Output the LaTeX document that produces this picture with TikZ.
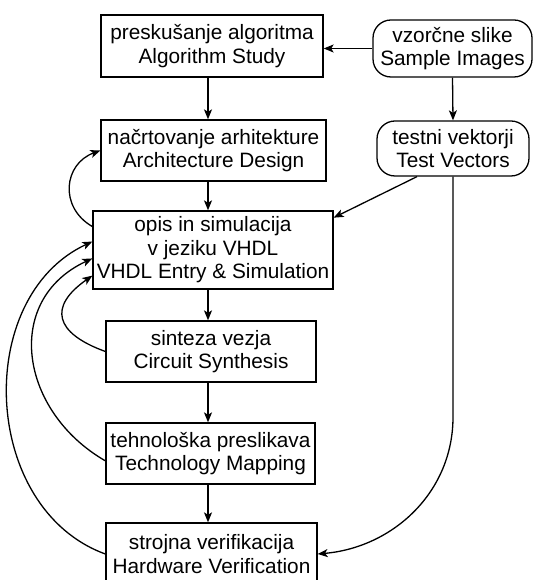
\documentclass[tikz,border=0pt]{standalone}
\usepackage{fontspec}
\setmainfont{Liberation Sans}
\usetikzlibrary{arrows.meta}

\begin{document}
\begin{tikzpicture}[->, x=1pt, y=1pt, line width=1.3pt, >={Stealth[length=10pt,width=8pt,inset=2.5pt]}]
	\useasboundingbox (0,0) rectangle (533,580);
	\fontsize{20.8}{23.5}\selectfont
	\tikzstyle{block}=[rectangle, draw=black, align=center, inner sep=2pt]
	\tikzstyle{data}=[block, rounded corners=18pt]
	\foreach \name/\x/\y/\w/\h/\txt in {alg/212/534/222/62/{preskušanje algoritma\\Algorithm Study},
	    arch/213.5/429.5/225/61/{načrtovanje arhitekture\\Architecture Design},
	    vhdl/213/330/240/78/{opis in simulacija\\v jeziku VHDL\\VHDL Entry \& Simulation},
	    synth/211/228.5/210/61/{sinteza vezja\\Circuit Synthesis},
	    map/210.5/126.5/209/61/{tehnološka preslikava\\Technology Mapping},
	    verif/211.5/26/211/62/{strojna verifikacija\\Hardware Verification}} {
	    \node[block, minimum width=\w pt, minimum height=\h pt] (\name) at (\x,\y) {\txt};
	}
	\node[data, minimum width=159pt, minimum height=57pt] (sample) at (452.5,531.5) {vzorčne slike\\Sample Images};
	\node[data, minimum width=152pt, minimum height=55pt] (test) at (453,431.5) {testni vektorji\\Test Vectors};
	\coordinate (spine) at (208,0);
	\coordinate (turn) at (453,163);
	\foreach \current/\next in {alg/arch,arch/vhdl,vhdl/synth,synth/map,map/verif} {
	    \path (\current.south -| spine) edge (\next.north -| spine);
	}
	\path (sample.west) edge (sample.west -| alg.east);
	\path (sample.south) edge (test.north);
	\path (test.218) edge (vhdl.15);
	\draw (test.south) -- (turn) to[out=-90, in=5] (verif.east);
	% feedback loops on the left
	\path (vhdl.169) edge[out=150, in=200, looseness=1.3] (arch.west);
	\path (synth.west) edge[out=160, in=215, looseness=1.8] (vhdl.192);
	\path (map.184) edge[out=150, in=205, looseness=1.25] (vhdl.184);
	\path (verif.west) edge[out=160, in=205, looseness=1.08] (vhdl.176);
\end{tikzpicture}
\end{document}
